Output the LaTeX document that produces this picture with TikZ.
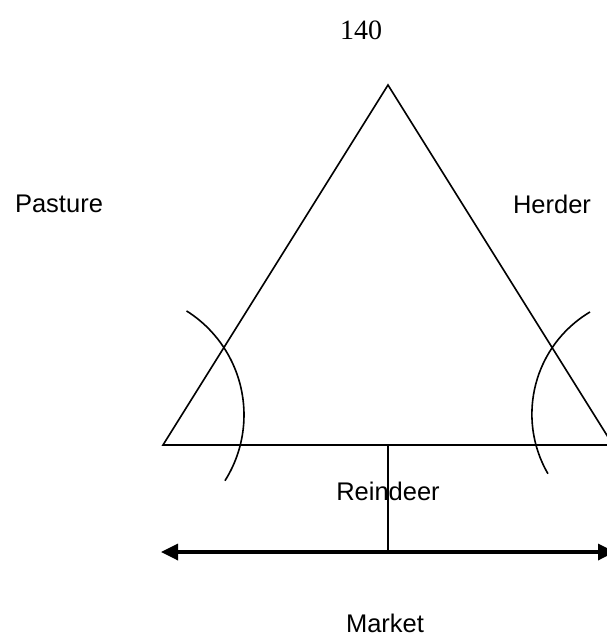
\documentclass[tikz,border=0pt]{standalone}
\usepackage{fontspec}
\setmainfont{Liberation Serif}
\newfontfamily\arialfont{Liberation Sans}
\usetikzlibrary{
  arrows.meta,
  positioning
}

\begin{document}
\begin{tikzpicture}[x=1pt, y=-1pt,
    lbl/.style={font=\fontsize{25.5}{28}\selectfont\arialfont, inner sep=0pt},
    edge/.style={line width=1.6pt}]
\clip (0,0) rectangle (607,638);
\node[font=\fontsize{28}{32}\selectfont, inner sep=0pt] (page) at (361,30) {140};
\coordinate (apex) at (388,85);
\coordinate (cornerL) at (163,445);
\coordinate (cornerR) at (613,445);
\draw[edge] (apex) -- (cornerL) -- (cornerR) -- cycle;
\coordinate (bowL) at (121,415);
\coordinate (bowR) at (650.7,414.1);
\draw[edge] (bowL) ++(-57.8:123) arc[start angle=-57.8, end angle=32.3, radius=123];
\draw[edge] (bowR) ++(-120.7:118.8) arc[start angle=-120.7, end angle=-210.1, radius=118.8];
\node[lbl] (pasture) at (59,204) {Pasture};
\node[lbl] (herder) at (552,204) {Herder};
\node[lbl] (reindeer) at (388,491) {Reindeer};
\node[lbl] (market) at (385,623) {Market};
\coordinate (baseMid) at (388,445);
\coordinate (arrowL) at (161,552);
\coordinate (arrowR) at (615,552);
\coordinate (arrowMid) at (388,552);
\draw[edge] (baseMid) -- (arrowMid);
\draw[line width=3.4pt, {Triangle[length=17pt,width=16pt]}-{Triangle[length=17pt,width=16pt]}] (arrowL) -- (arrowR);
\end{tikzpicture}
\end{document}
